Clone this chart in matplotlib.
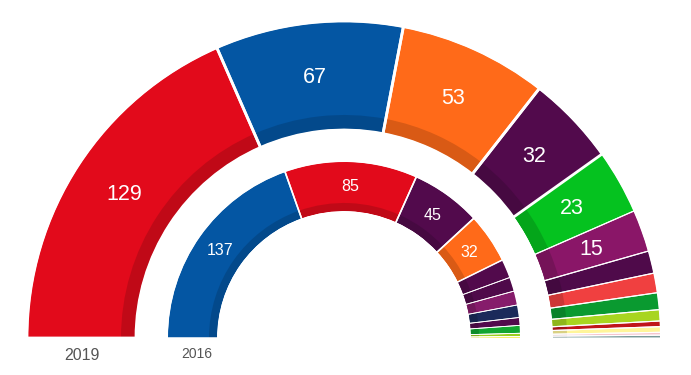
import matplotlib
matplotlib.use("Agg")
import matplotlib.pyplot as plt
import numpy as np

plt.rcParams['font.family'] = ['Liberation Sans', 'DejaVu Sans']

TOTAL = 350

# 2019 (outer ring)
seats_2019 = [129, 67, 53, 32, 23, 15, 8, 7, 6, 4, 2, 2, 1, 1]
colors_2019 = ['#E20A1B', '#0456A3', '#FF6A19', '#520A4C', '#05C21F', '#8A1668',
               '#4F0A4A', '#F04040', '#0A9A30', '#A8D520', '#C0151A', '#FFF59A',
               '#F5C6CF', '#7A9A9A']
# 2016 (inner ring)
seats_2016 = [137, 85, 45, 32, 12, 9, 9, 8, 5, 5, 2, 1]
colors_2016 = ['#0456A3', '#E20A1B', '#520A4C', '#FF6A19', '#520A4C', '#4F0A4A',
               '#861C6B', '#1B2A5A', '#520A4C', '#12A530', '#9ACD20', '#F0E800']

label_min_2019 = 15
label_min_2016 = 32


def darker(c, f=0.85):
    r, g, b = matplotlib.colors.to_rgb(c)
    return (r * f, g * f, b * f)


fig = plt.figure(figsize=(6.91, 3.75), dpi=100)
ax = fig.add_axes([0, 0, 1, 1])

cx, cy = 344, 37


def ring(values, colors, r_out, r_in, strip, lw_big, lw_small, minlab, fs):
    vals = list(values) + [TOTAL]
    cols = list(colors) + ['none']
    ax.pie(vals, colors=cols, radius=r_out, center=(cx, cy), startangle=180,
           counterclock=False, wedgeprops=dict(width=r_out - r_in, linewidth=0))
    dcols = [darker(c) for c in colors] + ['none']
    ax.pie(vals, colors=dcols, radius=r_in + strip, center=(cx, cy), startangle=180,
           counterclock=False, wedgeprops=dict(width=strip, linewidth=0))
    ecols = ['none'] * len(vals)
    wedges, _ = ax.pie(vals, colors=ecols, radius=r_out + 1, center=(cx, cy),
                       startangle=180, counterclock=False,
                       wedgeprops=dict(width=r_out - r_in + 2, linewidth=lw_small,
                                       edgecolor='white', facecolor='none'))
    for i, w in enumerate(wedges[:-1]):
        if values[i] >= 30:
            w.set_linewidth(lw_big)
    wedges[-1].set_linewidth(0)
    cum = np.cumsum([0] + list(values))
    rm = (r_out + r_in) / 2
    for i, v in enumerate(values):
        if v >= minlab:
            mid = (cum[i] + cum[i + 1]) / 2
            ang = np.deg2rad(180 - mid / TOTAL * 180)
            ax.text(cx + rm * np.cos(ang), cy + rm * np.sin(ang), str(v),
                    ha='center', va='center', color='white', fontsize=fs)


ring(seats_2019, colors_2019, 316, 209, 14, 2.0, 0.8, label_min_2019, 15.5)
ring(seats_2016, colors_2016, 176, 127, 8, 1.1, 0.6, label_min_2016, 11.5)

ax.text(cx - 262.5, 375 - 356, '2019', ha='center', va='center', color='#555555', fontsize=11.5)
ax.text(cx - 147, 375 - 354, '2016', ha='center', va='center', color='#555555', fontsize=10)

ax.set_xlim(0, 691)
ax.set_ylim(0, 375)
ax.set_aspect('equal')
ax.axis('off')

fig.savefig('out.png', dpi=100)
